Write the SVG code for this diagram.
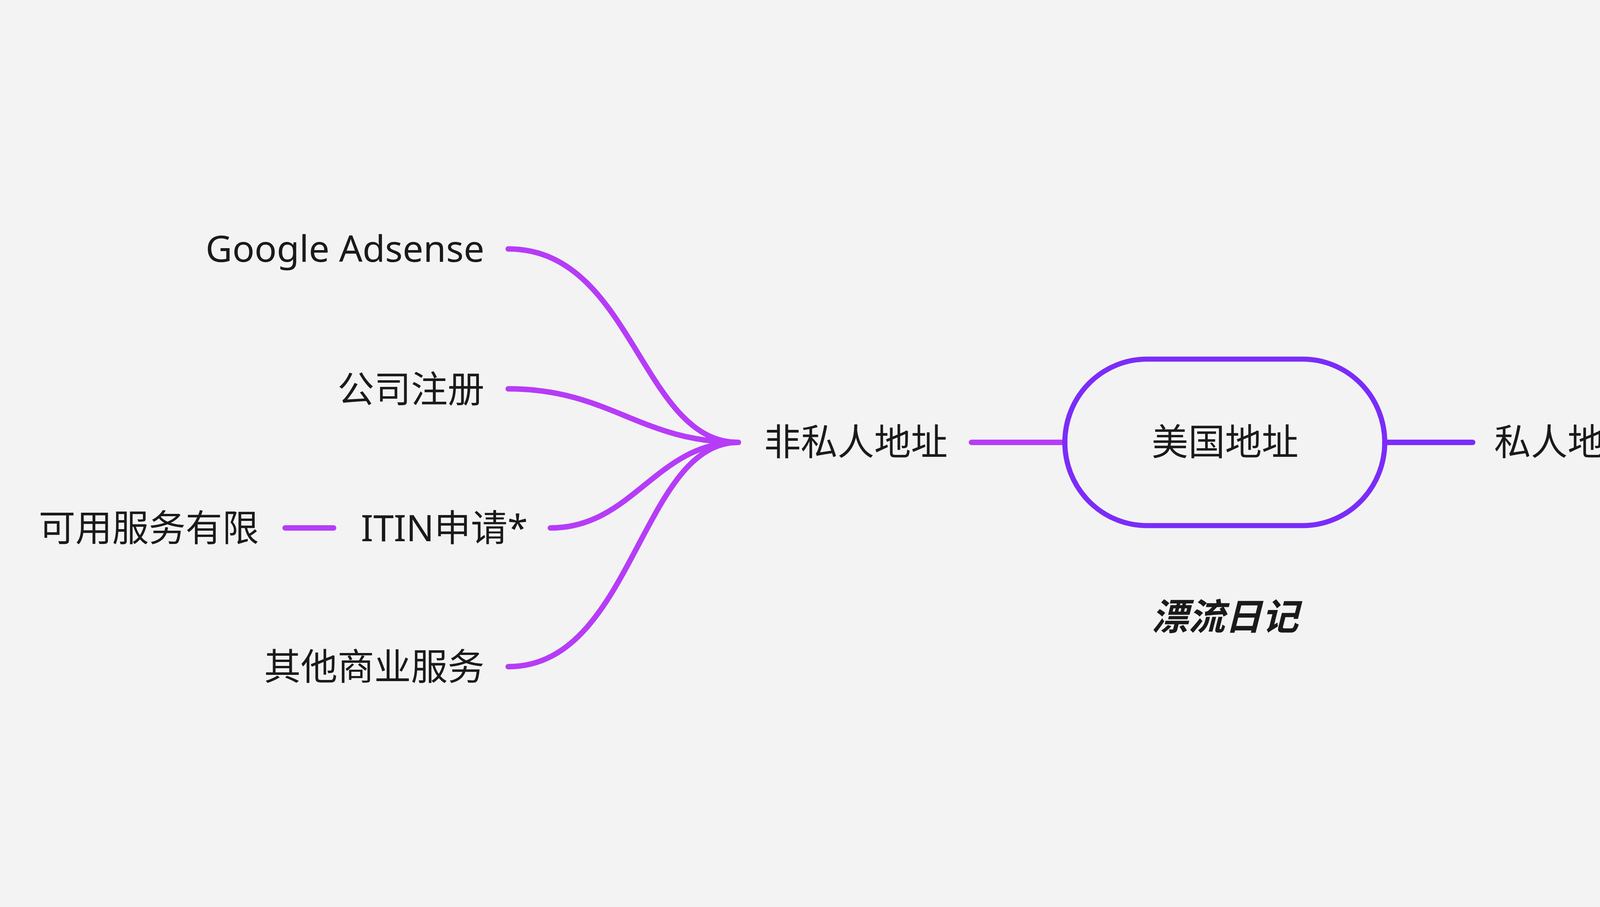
<svg xmlns="http://www.w3.org/2000/svg" width="6893" height="2321" viewBox="0 0 6893 2321">
<style>
text{font-family:"Noto Sans","Noto Sans CJK SC",sans-serif;font-size:94px;fill:#1a1a1a}
.l{fill:none;stroke:#b63cf7;stroke-width:14;stroke-linecap:round}
.r{fill:none;stroke:#7b2cf9;stroke-width:14;stroke-linecap:round}
</style>
<rect width="6893" height="2321" fill="#f3f3f3"/>
<g id="connectors">
<path class="l" d="M1301 637 C1620 637 1640 1132 1890 1132"/>
<path class="l" d="M1301 995 C1560 995 1640 1132 1890 1132"/>
<path class="l" d="M1409 1351 C1620 1351 1680 1132 1890 1132"/>
<path class="l" d="M1301 1706 C1620 1706 1640 1132 1890 1132"/>
<path class="l" d="M730 1351 H854"/>
<path class="l" d="M2487 1132 H2726"/>
<path class="r" d="M3545 1132 H3770"/>
<path class="r" d="M4272 1131 C4420 1131 4360 225 4493 225"/>
<path class="r" d="M4272 1131 C4380 1131 4400 1135 4501 1135"/>
<path class="r" d="M4272 1131 C4420 1131 4360 2042 4493 2042"/>
<path class="r" d="M5001 1135 C5230 1135 5200 585 5400 585"/>
<path class="r" d="M5001 1135 C5200 1135 5240 940 5400 940"/>
<path class="r" d="M5001 1135 C5200 1135 5240 1297 5400 1297"/>
<path class="r" d="M5001 1135 C5230 1135 5200 1654 5400 1654"/>
</g>
<g id="root"><rect x="2726" y="919" width="819" height="426" rx="210" ry="213" fill="none" stroke="#7b2cf9" stroke-width="13"/><text x="3136" y="1165" text-anchor="middle">美国地址</text></g>
<g id="n-nonprivate"><text x="1956" y="1165">非私人地址</text></g>
<g id="n-google"><text x="1240" y="670" text-anchor="end">Google Adsense</text></g>
<g id="n-company"><text x="1240" y="1030" text-anchor="end">公司注册</text></g>
<g id="n-itin1"><text x="1351" y="1385" text-anchor="end">ITIN申请*</text></g>
<g id="n-limited"><text x="663" y="1385" text-anchor="end">可用服务有限</text></g>
<g id="n-other1"><text x="1240" y="1740" text-anchor="end">其他商业服务</text></g>
<g id="n-private"><text x="3825" y="1165">私人地址</text></g>
<g id="n-almost"><text x="4553" y="258">几乎支持商业地址的所有功能</text></g>
<g id="n-itin2"><text x="4553" y="1168">ITIN申请</text></g>
<g id="n-other2"><text x="4553" y="2075">其他对地址要求相对严格的服务</text></g>
<g id="n-credit"><text x="5460" y="618">信用卡的申请</text></g>
<g id="n-bank"><text x="5460" y="973">美国银行账户申请</text></g>
<g id="n-paypal"><text x="5460" y="1330">PayPal等电子钱包实体卡的申请</text></g>
<g id="n-verify"><text x="5460" y="1687">众多网络服务的地址验证</text></g>
<text x="3136" y="1612" text-anchor="middle" font-weight="bold" font-style="italic">漂流日记</text>
</svg>
